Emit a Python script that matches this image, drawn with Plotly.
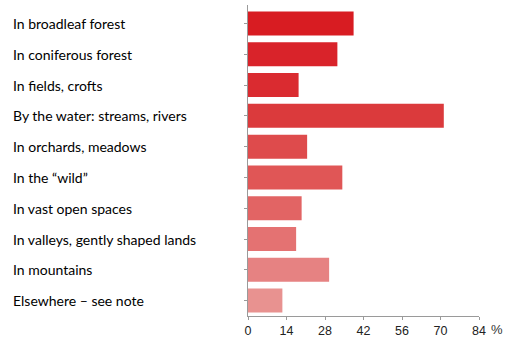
import plotly.graph_objects as go

categories = [
    "In broadleaf forest",
    "In coniferous forest",
    "In fields, crofts",
    "By the water: streams, rivers",
    "In orchards, meadows",
    "In the \u201cwild\u201d",
    "In vast open spaces",
    "In valleys, gently shaped lands",
    "In mountains",
    "Elsewhere \u2013 see note",
]
values = [38.4, 32.5, 18.4, 71.2, 21.5, 34.3, 19.5, 17.5, 29.5, 12.5]
tick_vals = [0, 14, 28, 42, 56, 70, 84]

bar_colors = ["#d81c22", "#d9232a", "#da2b30", "#db3a3c", "#de4b4c",
              "#e05656", "#e26464", "#e47272", "#e68282", "#e89290"]

L, R, T, B = 248, 26, 5, 24
W, H = 505, 340
plot_w = W - L - R

fig = go.Figure(go.Bar(
    x=values, y=categories, orientation="h",
    marker=dict(color=bar_colors, line=dict(width=0)),
    hoverinfo="skip",
))

annotations = []
for c in categories:
    annotations.append(dict(
        x=(11 - L) / plot_w, xref="paper", y=c, yref="y",
        text=c, showarrow=False, xanchor="left", yanchor="middle",
        font=dict(family="Lato", size=14, color="#000000"),
    ))
annotations.append(dict(
    x=(497 - L) / plot_w, xref="paper", y=-0.045, yref="paper",
    text="%", showarrow=False, xanchor="center", yanchor="middle",
    font=dict(family="Liberation Sans, Arial", size=13, color="#333333"),
))

fig.update_layout(
    width=W, height=H,
    margin=dict(l=L, r=R, t=T, b=B, autoexpand=False),
    paper_bgcolor="white", plot_bgcolor="white",
    bargap=0.22,
    showlegend=False,
    annotations=annotations,
    xaxis=dict(
        range=[0, 84], tickvals=tick_vals, ticktext=[str(v) for v in tick_vals],
        showgrid=False, zeroline=False, automargin=False,
        showline=True, linecolor="#9a9a9a", linewidth=1,
        ticks="outside", ticklen=3, tickcolor="#9a9a9a",
        ticklabelstandoff=0,
        tickfont=dict(family="Liberation Sans, Arial", size=12.5, color="#222222"),
        fixedrange=True,
    ),
    yaxis=dict(
        categoryorder="array", categoryarray=categories[::-1],
        showticklabels=False, showgrid=False, zeroline=False, automargin=False,
        showline=True, linecolor="#9a9a9a", linewidth=1,
        ticks="outside", ticklen=3, tickcolor="#9a9a9a",
        range=[-0.5, 9.6],
        fixedrange=True,
    ),
)

fig.write_html("out.html", config={"displayModeBar": False})
